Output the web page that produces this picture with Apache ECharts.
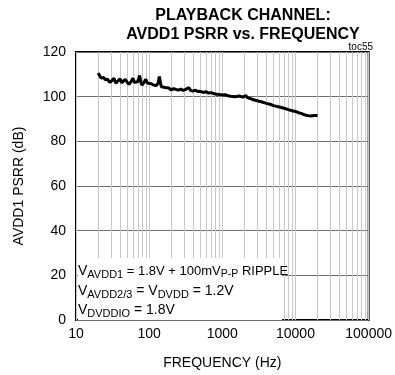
<!DOCTYPE html>
<html>
<head>
<meta charset="utf-8">
<script src="https://cdn.jsdelivr.net/npm/echarts@6/dist/echarts.min.js"></script>
<style>html,body{margin:0;padding:0;background:#fff}#c{width:395px;height:375px}</style>
</head>
<body>
<div id="c"></div>
<script>
// Frequency (Hz)
const freq = [20,21,22,24,25,27,29,31,33,35,37,40,42,44,47,50,53,56,60,63,66,70,74,77,80,85,90,95,100,105,110,115,120,126,132,138,142,147,155,165,175,185,200,215,230,250,270,290,310,330,350,370,400,430,460,500,550,600,650,700,800,900,1000,1100,1200,1300,1500,1700,1900,2100,2200,2400,2600,3000,3500,4000,4500,5000,6000,7000,8000,9000,10000,11000,12000,13000,14000,15000,16000,17000,18000,19000,20000];
// PSRR (dB)
const psrr = [110.5,109.5,108.3,108.6,107.5,107.8,106.4,107.2,108.2,106.0,106.8,108.0,106.2,105.8,107.8,106.5,105.5,106.5,108.2,106.3,105.8,106.8,109.5,106.5,105.2,106.4,107.8,106.0,105.4,105.9,106.5,105.2,104.6,105.0,106.0,109.0,106.5,104.4,103.8,104.1,103.5,103.9,103.0,103.6,103.3,102.9,103.4,102.8,103.2,102.6,104.0,102.7,102.5,102.9,102.3,102.4,101.9,102.2,101.6,101.8,101.2,101.0,100.8,100.9,100.4,100.2,100.0,100.3,99.8,100.5,99.6,99.2,98.7,98.2,97.6,97.0,96.6,96.0,95.4,94.8,94.2,93.7,93.4,92.8,92.5,92.0,91.7,91.5,91.3,91.4,91.6,91.5,91.6];
// Minor vertical grid positions (Hz)
const minorGrid = [20,30,40,50,60,70,80,90,200,300,400,500,600,700,800,900,2000,3000,4000,5000,6000,7000,8000,9000,20000,30000,40000,50000,60000,70000,80000,90000];
// Tick labels
const xTicks = ['10','100','1000','10000','100000'];
const yTicks = [0,20,40,60,80,100,120];

const FONT = 'Liberation Sans, Arial, sans-serif';
const chart = echarts.init(document.getElementById('c'), null, {renderer:'canvas'});
const mStyle = {fontSize:14, fontFamily:FONT, color:'#000', lineHeight:18};
const sStyle = {fontSize:11, fontFamily:FONT, color:'#000', lineHeight:11, verticalAlign:'bottom'};
const m2Style = {fontSize:13, fontFamily:FONT, color:'#000', lineHeight:18};
const s2Style = {fontSize:10.5, fontFamily:FONT, color:'#000', lineHeight:11, verticalAlign:'bottom'};
chart.setOption({
  animation:false,
  backgroundColor:'#fff',
  title:{
    text:'PLAYBACK CHANNEL:\nAVDD1 PSRR vs. FREQUENCY',
    left:238, top:1, textAlign:'center',
    textStyle:{fontSize:16, fontWeight:'bold', fontFamily:FONT, color:'#000', lineHeight:19}
  },
  grid:{left:76, right:21, top:52, bottom:54, show:true, borderColor:'#000', borderWidth:2, containLabel:false},
  xAxis:{
    type:'log', logBase:10, min:10, max:100000,
    name:'FREQUENCY (Hz)', nameLocation:'middle', nameGap:36,
    nameTextStyle:{fontSize:14, fontFamily:FONT, color:'#000'},
    axisLine:{show:false}, axisTick:{show:false},
    axisLabel:{fontSize:14, fontFamily:FONT, color:'#000', margin:7,
      formatter:function(v){ const s=String(Math.round(v)); return xTicks.indexOf(s)>=0?s:''; }},
    splitLine:{show:true, lineStyle:{color:'#c8c8c8', width:1}}
  },
  yAxis:{
    type:'value', min:0, max:120, interval:20,
    name:'AVDD1 PSRR (dB)', nameLocation:'middle', nameGap:50,
    nameTextStyle:{fontSize:14, fontFamily:FONT, color:'#000'},
    axisLine:{show:false}, axisTick:{show:false},
    axisLabel:{fontSize:14, fontFamily:FONT, color:'#000', margin:10,
      formatter:function(v){ return yTicks.indexOf(v)>=0?String(v):''; }},
    splitLine:{show:true, lineStyle:{color:'#6e6e6e', width:1}}
  },
  series:[{
    type:'line',
    data:freq.map((f,i)=>[f,psrr[i]]),
    showSymbol:false, symbol:'none',
    lineStyle:{color:'#000', width:3},
    z:5,
    markLine:{
      silent:true, symbol:'none', label:{show:false}, animation:false,
      lineStyle:{color:'#c8c8c8', type:'solid', width:1},
      data:minorGrid.map(v=>({xAxis:v})),
      z:1
    }
  }],
  graphic:[
    {type:'rect', left:78, top:258, z:100, shape:{width:204, height:62}, style:{fill:'#fff'}},
    {type:'text', left:78, top:264, z:101, style:{
      text:'{m|V}{s|AVDD1}{m2| = 1.8V + 100mV}{s2|P-P}{m2| RIPPLE}', rich:{m:mStyle, s:sStyle, m2:m2Style, s2:s2Style}}},
    {type:'text', left:78, top:284, z:101, style:{
      text:'{m|V}{s|AVDD2/3}{m| = V}{s|DVDD}{m| = 1.2V}', rich:{m:mStyle, s:sStyle}}},
    {type:'text', left:78, top:303, z:101, style:{
      text:'{m|V}{s|DVDDIO}{m| = 1.8V}', rich:{m:mStyle, s:sStyle}}},
    {type:'text', right:22, top:42, z:101, style:{text:'toc55', fontSize:10, fontFamily:FONT, fill:'#000'}}
  ]
});
</script>
</body>
</html>
